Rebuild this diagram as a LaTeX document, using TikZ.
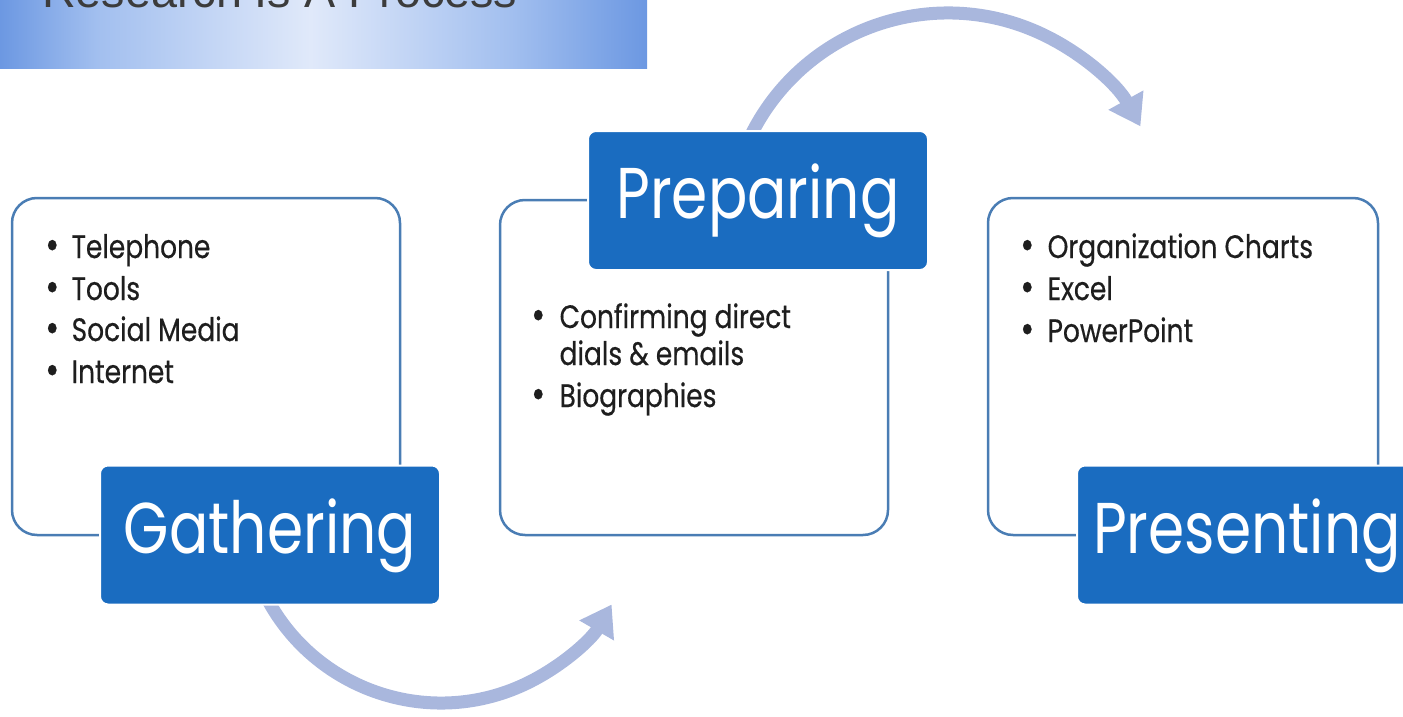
\documentclass[tikz,border=0pt]{standalone}
\usepackage{graphicx}
\usepackage{fontspec}
\setmainfont{Poppins}
\newfontfamily\itemfont{Poppins}[FakeBold=0.5]
\newfontfamily\titlefont{Liberation Sans}
\usetikzlibrary{arrows.meta}
\definecolor{stageblue}{HTML}{1A6CC0}
\definecolor{frameblue}{HTML}{4A7DB4}
\definecolor{flowblue}{HTML}{A9B7DD}
\definecolor{bannerlight}{HTML}{E0E9FA}
\definecolor{bannermid}{HTML}{A2BFEF}
\definecolor{bannerdark}{HTML}{6C98E2}
\definecolor{titlegray}{HTML}{3C3C3C}
\definecolor{ink}{HTML}{1E1E1E}
% glow across the title banner: dark edges, light middle
% (the path box maps onto the 25bp..75bp band of the shading)
\pgfdeclarehorizontalshading{bannerglow}{100bp}{%
  color(0bp)=(bannerdark); color(25bp)=(bannerdark); color(32.5bp)=(bannermid);
  color(49bp)=(bannerlight); color(64.5bp)=(bannermid); color(75bp)=(bannerdark);
  color(100bp)=(bannerdark)}
% tall, slightly narrow lettering for the stage names
\newcommand\stagename[1]{\scalebox{0.94}[1.16]{#1}}
% one bullet line: indent width, text
\newcommand\bulletline[2]{\scalebox{0.98}[1.2]{\makebox[#1][l]{\raisebox{-1pt}{\scalebox{1.3}{•}}}#2}}
\newcommand\moreline[2]{\scalebox{0.98}[1.2]{\hspace*{#1}#2}}
\begin{document}
\begin{tikzpicture}[x=1pt,y=-1pt,
  frame/.style={draw=frameblue, line width=2.5pt, rounded corners=25pt},
  stage/.style={fill=stageblue, draw=white, line width=2pt, rounded corners=8pt,
    minimum width=340pt, minimum height=139pt, text=white, inner sep=0pt,
    text height=52pt, text depth=16pt,
    font=\fontsize{62}{62}\selectfont},
  item/.style={anchor=base west, inner sep=0pt, text=ink,
    font=\itemfont\fontsize{27}{27}\selectfont},
  flow/.style={draw=flowblue, line width=13pt, -{Triangle[length=30pt,width=38pt]}},
]
\useasboundingbox (0,0) rectangle (1403,717);
\clip (0,0) rectangle (1403,717);

% title banner
\shade[shading=bannerglow] (0,0) rectangle (647,69);
\node[anchor=base west, inner sep=0pt, text=titlegray,
  font=\titlefont\fontsize{46.7}{46.7}\selectfont] (title) at (42,8) {Research Is A Process};

% curved flow arrows between the stages
\coordinate (lowc) at (441,506);
\coordinate (highc) at (948,233);
\draw[flow] ([shift={(155:197)}]lowc) arc[start angle=155, end angle=30, radius=197];
\draw[flow] ([shift={(204:220)}]highc) arc[start angle=204, end angle=331, radius=220];

% outlined content frames
\draw[frame] (12,198) rectangle (400,535);
\draw[frame] (500,200) rectangle (888,535);
\draw[frame] (988,198) rectangle (1378,535);

% stage labels
\node[stage] (gathering) at (270,535) {\stagename{Gathering}};
\node[stage] (preparing) at (758,200.5) {\stagename{Preparing}};
\node[stage] (presenting) at (1247,535) {\stagename{Presenting}};

% gathering items
\node[item] (g1) at (45,258) {\bulletline{27pt}{Telephone}};
\node[item] (g2) at (45,300) {\bulletline{27pt}{Tools}};
\node[item] (g3) at (45,341) {\bulletline{27pt}{Social Media}};
\node[item] (g4) at (45,383) {\bulletline{27pt}{Internet}};

% preparing items
\node[item] (p1) at (531,328) {\bulletline{29pt}{Confirming direct}};
\node[item] (p2) at (531,365) {\moreline{29pt}{dials \& emails}};
\node[item] (p3) at (531,407) {\bulletline{29pt}{Biographies}};

% presenting items
\node[item] (r1) at (1020,258) {\bulletline{28pt}{Organization Charts}};
\node[item] (r2) at (1020,300) {\bulletline{28pt}{Excel}};
\node[item] (r3) at (1020,342) {\bulletline{28pt}{PowerPoint}};
\end{tikzpicture}
\end{document}
